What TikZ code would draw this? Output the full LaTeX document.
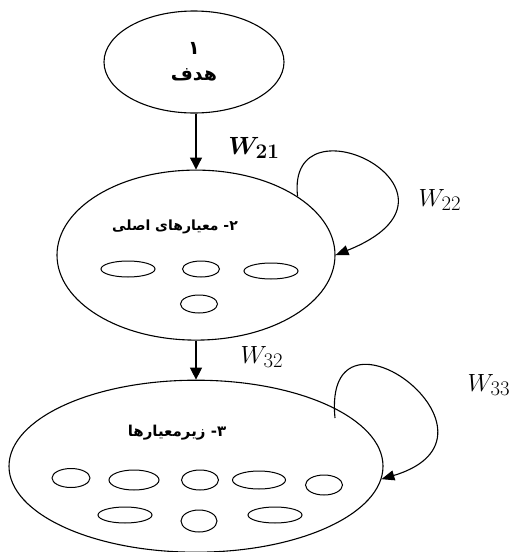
\documentclass[tikz,border=0pt]{standalone}
\usepackage{fontspec}
\usepackage{amsmath, bm}
\usepackage{tikz}
\usetikzlibrary{arrows.meta, positioning, shapes.geometric, calc}
\TeXXeTstate=1
\newfontfamily\farsi[Script=Arabic]{DejaVu Sans}

\begin{document}
\begin{tikzpicture}[
    x=1pt, y=-1pt,
    big/.style={draw, ellipse, line width=1.1pt, inner sep=0pt},
    elem/.style 2 args={draw, ellipse, line width=1pt, inner sep=0pt,
                minimum width=#1, minimum height=#2},
    fa/.style={font=\farsi\bfseries\fontsize{#1}{26}\selectfont, align=center},
    wlab/.style={font=\fontsize{24.88}{28}\selectfont},
    arr/.style={-{Triangle[length=12pt, width=12pt]}, line width=1.1pt},
    selfarr/.style={-{Triangle[length=13pt, width=10pt]}, line width=1.1pt}
]
    \useasboundingbox (0,0) rectangle (514,552);

    % the three levels
    \node[big, minimum width=180pt, minimum height=102pt, fa=19] (goal) at (194,62)
        {\beginR ۱\endR\\\beginR هدف\endR};
    \node[big, minimum width=278pt, minimum height=170pt, below=56pt of goal.south,
          anchor=north, xshift=2pt] (crit) {};
    \node[big, minimum width=374pt, minimum height=172pt, below=39pt of crit] (subcrit) {};

    \node[fa=14] (critname) at (175,227) {\beginR ۲- معیارهای اصلی\endR};
    \node[fa=15] (subname) at (177,433) {\beginR ۳- زیرمعیارها\endR};

    % main criteria
    \node[elem={54pt}{16pt}] (c1) at (128,269) {};
    \node[elem={37pt}{16pt}] (c2) at (201,269) {};
    \node[elem={54pt}{16pt}] (c3) at (271,271) {};
    \node[elem={37pt}{18pt}] (c4) at (199,304) {};

    % sub-criteria
    \node[elem={38pt}{19pt}] (s1) at (71,478) {};
    \node[elem={50pt}{20pt}] (s2) at (134,480) {};
    \node[elem={37pt}{20pt}] (s3) at (200,480) {};
    \node[elem={53pt}{18pt}] (s4) at (259,480) {};
    \node[elem={37pt}{20pt}] (s5) at (324,485) {};
    \node[elem={54pt}{16pt}] (s6) at (125,515) {};
    \node[elem={36pt}{22pt}] (s7) at (199,521) {};
    \node[elem={54pt}{16pt}] (s8) at (275,515) {};

    % weights
    \draw[arr] (goal.south -| crit.north) -- (crit);
    \draw[arr] (crit) -- (subcrit);
    \draw[selfarr] (crit.30) .. controls +(-12,-105) and +(155,-62) .. (crit.east);
    \coordinate (s33) at (335,418);
    \draw[selfarr] (s33) .. controls +(-13,-133) and +(143,-43) .. (subcrit.-4);

    \node[wlab] (w21) at (254,148) {$\bm{W}_{\bm{21}}$};
    \node[wlab] (w22) at (440,200) {$W_{22}$};
    \node[wlab] (w32) at (262,357) {$W_{32}$};
    \node[wlab] (w33) at (489,385) {$W_{33}$};
\end{tikzpicture}
\end{document}
